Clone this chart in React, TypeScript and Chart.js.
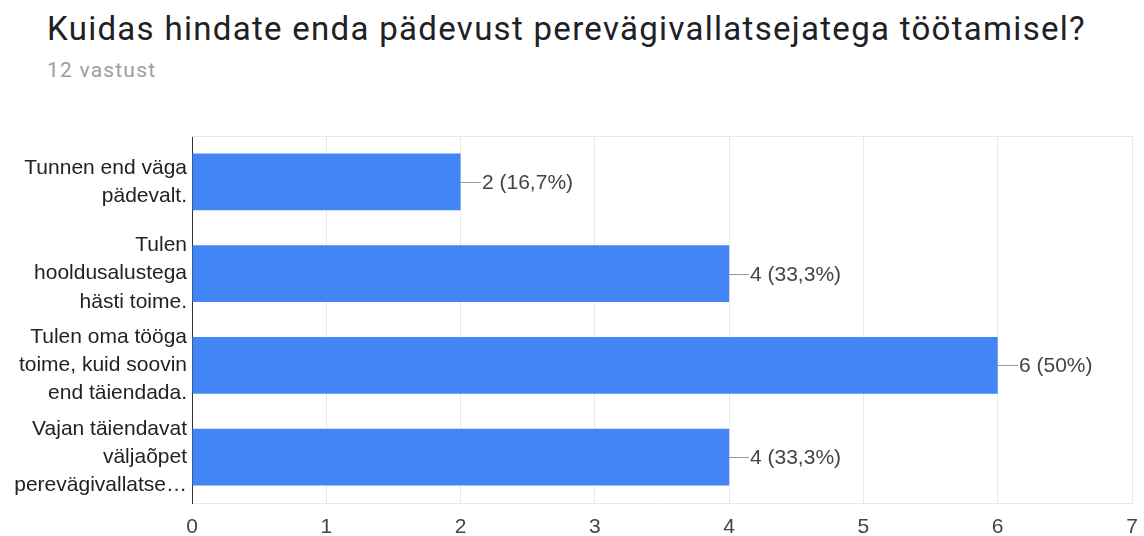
import React, { useEffect, useRef } from "react";
import { Chart, registerables } from "chart.js";

Chart.register(...registerables);

const TITLE = "Kuidas hindate enda pädevust perevägivallatsejatega töötamisel?";
const SUBTITLE = "12 vastust";
const TOTAL = 12;
const CATEGORIES: string[][] = [
  ["Tunnen end väga", "pädevalt."],
  ["Tulen", "hooldusalustega", "hästi toime."],
  ["Tulen oma tööga", "toime, kuid soovin", "end täiendada."],
  ["Vajan täiendavat", "väljaõpet", "perevägivallatse…"],
];
const VALUES = [2, 4, 6, 4];
const X_MIN = 0;
const X_MAX = 7;

function fmtLabel(v: number): string {
  const p = (v / TOTAL) * 100;
  let s = p.toFixed(1);
  if (s.endsWith(".0")) s = s.slice(0, -2);
  return `${v} (${s.replace(".", ",")}%)`;
}

const FONT = "'Liberation Sans', Arial, sans-serif";

const extrasPlugin = {
  id: "extras",
  beforeDatasetsDraw(chart: any) {
    const { ctx, chartArea } = chart;
    ctx.save();
    ctx.strokeStyle = "#e8e8e8";
    ctx.lineWidth = 1;
    ctx.beginPath();
    ctx.moveTo(chartArea.left, chartArea.top + 0.5);
    ctx.lineTo(chartArea.right, chartArea.top + 0.5);
    ctx.stroke();
    ctx.restore();
  },
  afterDatasetsDraw(chart: any) {
    const { ctx } = chart;
    const meta = chart.getDatasetMeta(0);
    ctx.save();
    ctx.font = `21px ${FONT}`;
    ctx.textBaseline = "middle";
    ctx.textAlign = "left";
    meta.data.forEach((bar: any, i: number) => {
      const x = Math.round(bar.x);
      const y = Math.round(bar.y) + 0.5;
      ctx.strokeStyle = "#999999";
      ctx.lineWidth = 1;
      ctx.beginPath();
      ctx.moveTo(x, y);
      ctx.lineTo(x + 20, y);
      ctx.stroke();
      ctx.fillStyle = "#444444";
      ctx.fillText(fmtLabel(VALUES[i]), x + 21, y + 1);
    });
    ctx.restore();
  },
};

export default function App() {
  const ref = useRef<HTMLCanvasElement | null>(null);

  useEffect(() => {
    document.body.style.margin = "0";
    const canvas = ref.current;
    if (!canvas) return;
    const chart = new Chart(canvas, {
      type: "bar",
      data: {
        labels: CATEGORIES as any,
        datasets: [
          {
            data: VALUES,
            backgroundColor: "#4285F4",
            borderWidth: 0,
            barPercentage: 0.62,
            categoryPercentage: 1,
          },
        ],
      },
      options: {
        indexAxis: "y",
        animation: false,
        responsive: false,
        maintainAspectRatio: false,
        layout: { padding: { top: 136, right: 12, left: 0, bottom: 0 } },
        plugins: {
          legend: { display: false },
          tooltip: { enabled: false },
          title: { display: false },
        },
        scales: {
          x: {
            min: X_MIN,
            max: X_MAX,
            ticks: {
              stepSize: 1,
              color: "#444444",
              font: { family: FONT, size: 21 },
              padding: 12,
            },
            grid: { color: "#e8e8e8", drawTicks: false, tickLength: 0 },
            border: { color: "#e8e8e8", display: true },
            afterFit(scale: any) {
              scale.height = 33;
              scale.paddingLeft = 0;
              scale.paddingRight = 0;
            },
          },
          y: {
            ticks: {
              color: "#222222",
              font: { family: FONT, size: 21, lineHeight: 1.34 },
              padding: 5,
              autoSkip: false,
            },
            grid: { display: false, drawTicks: false },
            border: { color: "#333333", display: true, width: 1 },
            afterFit(scale: any) {
              scale.width = 192;
              scale.paddingTop = 0;
              scale.paddingBottom = 0;
            },
          },
        },
      },
      plugins: [extrasPlugin],
    });
    return () => chart.destroy();
  }, []);

  return (
    <div style={{ position: "relative", width: 1144, height: 536, background: "#fff", overflow: "hidden" }}>
      <div
        style={{
          position: "absolute",
          left: 47,
          top: 12,
          fontFamily: "Roboto, sans-serif",
          fontSize: 33,
          lineHeight: "33px",
          letterSpacing: "1.3px",
          color: "#202124",
          whiteSpace: "nowrap",
        }}
      >
        {TITLE}
      </div>
      <div
        style={{
          position: "absolute",
          left: 47,
          top: 60,
          fontFamily: "Roboto, sans-serif",
          fontSize: 21,
          lineHeight: "21px",
          letterSpacing: "1.2px",
          color: "#9e9e9e",
          whiteSpace: "nowrap",
        }}
      >
        {SUBTITLE}
      </div>
      <canvas ref={ref} width={1144} height={536} style={{ position: "absolute", left: 0, top: 0 }} />
    </div>
  );
}
